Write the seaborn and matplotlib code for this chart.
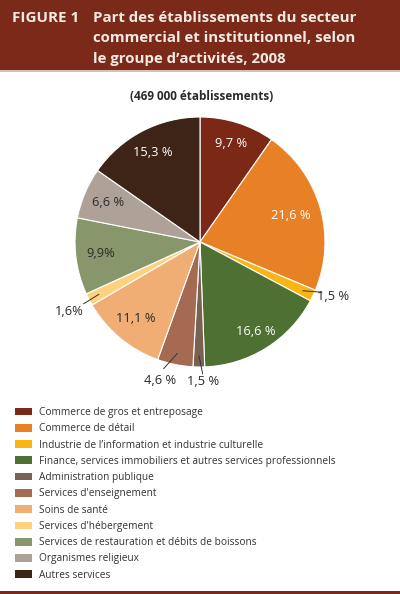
import numpy as np
import matplotlib
matplotlib.use("Agg")
import matplotlib.pyplot as plt
from matplotlib.patches import Rectangle
import seaborn as sns

categories = [
    "Commerce de gros et entreposage",
    "Commerce de détail",
    "Industrie de l\u2019information et industrie culturelle",
    "Finance, services immobiliers et autres services professionnels",
    "Administration publique",
    "Services d'enseignement",
    "Soins de santé",
    "Services d'hébergement",
    "Services de restauration et débits de boissons",
    "Organismes religieux",
    "Autres services",
]
values = [9.7, 21.6, 1.5, 16.6, 1.5, 4.6, 11.1, 1.6, 9.9, 6.6, 15.3]
value_labels = ["9,7 %", "21,6 %", "1,5 %", "16,6 %", "1,5 %", "4,6 %",
                "11,1 %", "1,6%", "9,9%", "6,6 %", "15,3 %"]
colors_hex = ["#7B2816", "#E88125", "#F9B516", "#4E7032", "#7A6253", "#A56A52",
              "#F0AE74", "#FDD27F", "#87976B", "#AEA197", "#3D2416"]
outside = [False, False, True, False, True, True, False, True, False, False, False]
light_text = [True, True, False, True, False, False, False, False, False, False, True]
# styling: angular nudge (degrees) and radius for labels
label_nudge = [0, 0, 3, 0, 1.7, -4.5, 0, 0.6, 0, 0, 0]
label_radius = [0.83, 0.76, 1.15, 0.84, 1.12, 1.15, 0.80, 1.18, 0.80, 0.80, 0.81]

title_lines = ["Part des établissements du secteur",
               "commercial et institutionnel, selon",
               "le groupe d\u2019activités, 2008"]
subtitle = "(469 000 établissements)"

sns.set_theme(style="white")
plt.rcParams['font.family'] = ['Open Sans', 'DejaVu Sans']

W, H = 400, 594
fig = plt.figure(figsize=(W / 100, H / 100), dpi=100)
fig.patch.set_facecolor("white")

header = "#7B2A1A"
fig.patches.append(Rectangle((0, 1 - 70 / H), 1, 70 / H, transform=fig.transFigure,
                             facecolor=header, edgecolor="none", zorder=0))
fig.patches.append(Rectangle((0, 1 - 71.5 / H), 1, 1.5 / H, transform=fig.transFigure,
                             facecolor="#D9BFB5", edgecolor="none", zorder=0))
fig.patches.append(Rectangle((0, 0), 1, 3 / H, transform=fig.transFigure,
                             facecolor=header, edgecolor="none", zorder=0))

tcol = "#F3EAE2"
fig.text(12 / W, 1 - 21.5 / H, "FIGURE 1", color=tcol, fontsize=11, fontweight="bold",
         va="baseline", ha="left")
for i, line in enumerate(title_lines):
    fig.text(93 / W, 1 - (21.5 + 20.5 * i) / H, line, color=tcol, fontsize=10.8,
             fontweight="bold", va="baseline", ha="left")

fig.text(202 / W, 1 - 97 / H, subtitle, color="#2b2b2b", fontsize=8.5,
         fontweight="bold", ha="center", va="center")

cx, cy, R = 200, 242, 125
ax = fig.add_axes([(cx - R) / W, (H - cy - R) / H, 2 * R / W, 2 * R / H])
palette = sns.color_palette(colors_hex)
wedges, _ = ax.pie(values, colors=palette, startangle=90, counterclock=False,
                   wedgeprops=dict(edgecolor="white", linewidth=0.8))
ax.set_xlim(-1, 1)
ax.set_ylim(-1, 1)
ax.set_aspect("equal")
ax.axis("off")

for w, lab, out, lt, nd, rr in zip(wedges, value_labels, outside, light_text,
                                   label_nudge, label_radius):
    mid = (w.theta1 + w.theta2) / 2
    ang = np.deg2rad(mid)
    lang = np.deg2rad(mid + nd)
    if out:
        ax.plot([0.91 * np.cos(ang), 1.055 * np.cos(lang)],
                [0.91 * np.sin(ang), 1.055 * np.sin(lang)], color="#333333",
                lw=0.7, clip_on=False)
        ax.text(rr * np.cos(lang), rr * np.sin(lang), lab, ha="center", va="center",
                fontsize=9.3, color="#2b2b2b", clip_on=False)
    else:
        ax.text(rr * np.cos(lang), rr * np.sin(lang), lab, ha="center", va="center",
                fontsize=9.3, color="white" if lt else "#2b2b2b")

leg = fig.legend(wedges, categories, loc="upper left",
                 bbox_to_anchor=(15 / W, 1 - 407 / H), frameon=False,
                 fontsize=7.3, handlelength=1.7, handleheight=0.8,
                 handletextpad=0.65, labelspacing=0.52, borderpad=0,
                 borderaxespad=0)
for t in leg.get_texts():
    t.set_color("#333333")
for h in leg.legend_handles:
    h.set_edgecolor("none")

fig.savefig("out.png", dpi=100, facecolor="white")
